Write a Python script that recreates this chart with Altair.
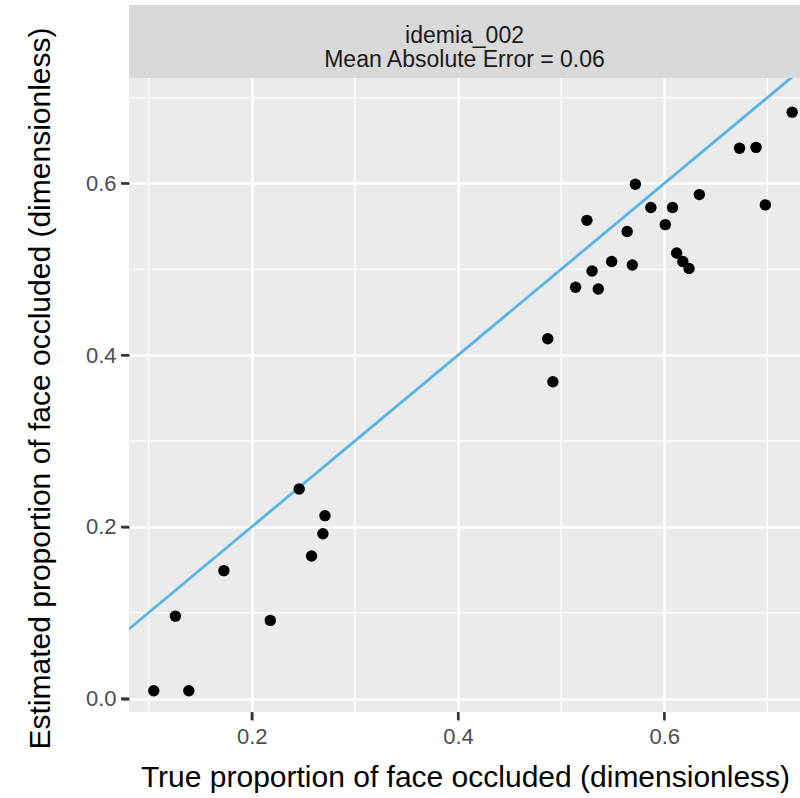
import altair as alt
import pandas as pd

# Data
true_prop = [0.105, 0.126, 0.139, 0.173, 0.218, 0.246, 0.258, 0.269, 0.271,
             0.487, 0.492, 0.514, 0.525, 0.530, 0.536, 0.549, 0.564, 0.569,
             0.572, 0.587, 0.601, 0.608, 0.612, 0.618, 0.624, 0.634, 0.673,
             0.689, 0.698, 0.724]
est_prop = [0.009, 0.096, 0.009, 0.149, 0.091, 0.244, 0.166, 0.192, 0.213,
            0.419, 0.369, 0.479, 0.557, 0.498, 0.477, 0.509, 0.544, 0.505,
            0.599, 0.572, 0.552, 0.572, 0.519, 0.509, 0.501, 0.587, 0.641,
            0.642, 0.575, 0.683]
identity_vals = [0.0, 1.0]
major_ticks_x = [0.2, 0.4, 0.6]
major_ticks_y = [0.0, 0.2, 0.4, 0.6]
minor_ticks = [0.1, 0.3, 0.5, 0.7]
strip_lines = ["idemia_002", "Mean Absolute Error = 0.06"]

FONT = "Liberation Sans"
W, H = 671, 634
x_dom = [0.0810, 0.7316]
y_dom = [-0.0157, 0.7228]

pts = pd.DataFrame({"true": true_prop, "est": est_prop})
ident = pd.DataFrame({"v": identity_vals})
minor = pd.DataFrame({"m": minor_ticks})
tx = pd.DataFrame({"t": major_ticks_x})
ty = pd.DataFrame({"t": major_ticks_y})
one = pd.DataFrame({"k": [0]})

xs = alt.Scale(domain=x_dom, nice=False, zero=False)
ys = alt.Scale(domain=y_dom, nice=False, zero=False)

x_axis = alt.Axis(values=major_ticks_x, format=".1f", title="True proportion of face occluded (dimensionless)",
                  grid=True, gridColor="white", gridWidth=2.4, domain=False,
                  ticks=True, tickColor="#333333", tickSize=8, tickWidth=2.2, tickOpacity=1,
                  labelFontSize=22, labelColor="#4d4d4d", labelFont=FONT, labelPadding=6,
                  titleFont=FONT, titleFontSize=30, titleFontWeight="normal", titleColor="black",
                  titleX=336, titleY=65, titleBaseline="middle", titleAlign="center")
y_axis = alt.Axis(values=major_ticks_y, format=".1f", title="Estimated proportion of face occluded (dimensionless)",
                  grid=True, gridColor="white", gridWidth=2.4, domain=False,
                  ticks=True, tickColor="#333333", tickSize=8, tickWidth=2.2, tickOpacity=1,
                  labelFontSize=22, labelColor="#4d4d4d", labelFont=FONT, labelPadding=5,
                  titleFont=FONT, titleFontSize=30, titleFontWeight="normal", titleColor="black",
                  titleX=-89, titleY=310, titleBaseline="middle", titleAlign="center", titleAngle=270)

points = alt.Chart(pts).mark_circle(size=130, color="black", opacity=1).encode(
    x=alt.X("true:Q", scale=xs, axis=x_axis),
    y=alt.Y("est:Q", scale=ys, axis=y_axis),
)

minor_x = alt.Chart(minor).mark_rule(color="white", strokeWidth=1.2, clip=True).encode(
    x=alt.X("m:Q", scale=xs, axis=x_axis))
minor_y = alt.Chart(minor).mark_rule(color="white", strokeWidth=1.2, clip=True).encode(
    y=alt.Y("m:Q", scale=ys, axis=y_axis))

tick_x = alt.Chart(tx).mark_rule(color="#333333", strokeWidth=2.2).encode(
    x=alt.X("t:Q", scale=xs, axis=x_axis), y=alt.value(H), y2=alt.value(H + 8))
tick_y = alt.Chart(ty).mark_rule(color="#333333", strokeWidth=2.2).encode(
    y=alt.Y("t:Q", scale=ys, axis=y_axis), x=alt.value(-8), x2=alt.value(0))

line = alt.Chart(ident).mark_line(color="#56B4E9", strokeWidth=2.8, clip=True).encode(
    x=alt.X("v:Q", scale=xs, axis=x_axis), y=alt.Y("v:Q", scale=ys, axis=y_axis))

strip = alt.Chart(one).mark_rect(color="#d9d9d9").encode(
    x=alt.value(0), x2=alt.value(W), y=alt.value(-73), y2=alt.value(0))
strip_text = alt.Chart(one).mark_text(text=strip_lines, font=FONT, fontSize=23, color="#1a1a1a",
                                      lineHeight=24, align="center", baseline="middle").encode(
    x=alt.value(W / 2), y=alt.value(-42))

chart = alt.layer(minor_x, minor_y, tick_x, tick_y, line, points, strip, strip_text).properties(
    width=W, height=H,
    background="white",
    padding={"left": 129, "top": 78, "right": 0, "bottom": 86},
    autosize=alt.AutoSizeParams(type="none"),
).configure_view(fill="#ebebeb", strokeWidth=0).configure_axis(
    ticks=True, tickColor="#333333", tickSize=8, tickWidth=2.2)

chart.save("out.html", embed_options={"renderer": "svg", "actions": False})
